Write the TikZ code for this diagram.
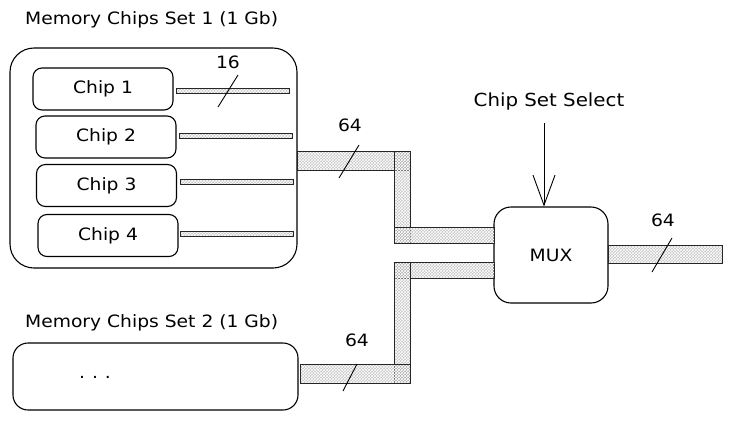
\documentclass[tikz,border=0pt]{standalone}
\usepackage{fontspec}
\setmainfont{DejaVu Sans}[FakeStretch=1.1]
\usetikzlibrary{arrows.meta,patterns}
\begin{document}
\begin{tikzpicture}[x=1pt,y=-1pt,
  box/.style={draw=black,line width=1.1pt,fill=white},
  chipbox/.style={box,rounded corners=9pt,minimum width=140pt,minimum height=42pt,inner sep=0pt,font=\fontsize{17}{19}\selectfont},
  bus/.style={draw=black!85,line width=0.9pt,
    preaction={fill=gray!90,fill opacity=0.5},
    preaction={pattern=crosshatch,pattern color=white,fill opacity=0.45}},
  lbl/.style={font=\fontsize{17}{19}\selectfont,inner sep=0pt},
  title/.style={font=\fontsize{17}{19}\selectfont,inner sep=0pt,anchor=west},
  slash/.style={draw=black,line width=0.9pt}]
\useasboundingbox (0,0) rectangle (732,421);

% titles
\node[title] (t1) at (25,20) {Memory Chips Set 1 (1 Gb)};
\node[title] (t2) at (25,323) {Memory Chips Set 2 (1 Gb)};

% set 1 box
\node[box,rounded corners=24pt,minimum width=287pt,minimum height=220pt] (set1) at (153.5,158) {};
\node[chipbox] (c1) at (103,89) {Chip 1};
\node[chipbox] (c2) at (106,137) {Chip 2};
\node[chipbox] (c3) at (106.5,185.5) {Chip 3};
\node[chipbox] (c4) at (108,235.5) {Chip 4};

% chip buses
\draw[bus] (176,88) rectangle (289,93);
\draw[bus] (179,133) rectangle (292,138);
\draw[bus] (180,179) rectangle (293,184);
\draw[bus] (180,231) rectangle (293,236);
\node[lbl] (l16) at (228,62) {16};
\draw[slash] (218,107) -- (238,75);

% set 2 box
\node[box,rounded corners=15pt,minimum width=285pt,minimum height=67pt] (set2) at (155.5,376.5) {};
\node[lbl] (dots) at (95,377) {.\hspace{7pt}.\hspace{7pt}.};

% MUX
\node[box,rounded corners=17pt,minimum width=114pt,minimum height=96pt,font=\fontsize{17}{19}\selectfont] (mux) at (551,255) {MUX};

% 64-bit buses
\draw[bus] (297,151) rectangle (410,170);
\draw[bus] (394,151) rectangle (410,243);
\draw[bus] (394,227) rectangle (494,243);
\draw[bus] (394,262) rectangle (494,278);
\draw[bus] (394,262) rectangle (410,383);
\draw[bus] (300,364) rectangle (410,383);
\draw[bus] (608,245) rectangle (722,263);

\node[lbl] (l64a) at (350,125) {64};
\draw[slash] (339,178) -- (359,145);
\node[lbl] (l64b) at (357,340) {64};
\draw[slash] (343,391) -- (357,364);
\node[lbl] (l64c) at (663,220) {64};
\draw[slash] (652,272) -- (672,238);

% select
\node[lbl,font=\fontsize{18}{20}\selectfont] (sel) at (549,102) {Chip Set Select};
\coordinate (selstart) at (544,123);
\draw[line width=0.9pt,-{Straight Barb[length=30pt,width=22pt,line width=0.9pt]}] (selstart) -- (mux.north -| selstart);
\end{tikzpicture}
\end{document}
